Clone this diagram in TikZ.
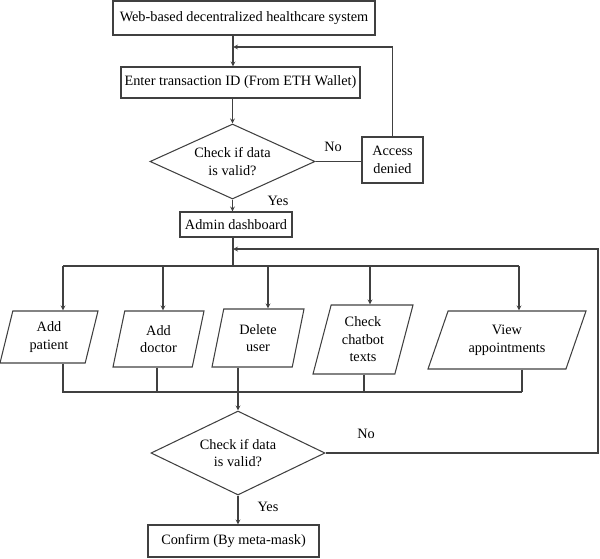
\documentclass[tikz,border=0pt]{standalone}
\usepackage{fontspec}
\setmainfont{Liberation Serif}
\usetikzlibrary{shapes.geometric}

\tikzset{
  txt/.style={font=\fontsize{12.2}{15}\selectfont},
  box/.style={txt, draw=black!75, line width=0.9pt, inner sep=2pt, align=center},
  decision/.style={box, diamond, aspect=2.2, inner sep=0pt},
  io/.style={box, trapezium, trapezium left angle=70, trapezium right angle=110,
    trapezium stretches body},
  link/.style={draw=black!75, line width=0.9pt},
}

\begin{document}
\begin{tikzpicture}[x=0.03cm, y=-0.03cm]
\useasboundingbox (0,0) rectangle (600,558);

 \node[box, minimum width=7.86cm, minimum height=1.02cm] (web) at (244, 18) {Web-based decentralized healthcare system};
 \node[box, minimum width=7.17cm, minimum height=0.93cm] (enter) at (240.5, 82.5) {Enter transaction ID (From ETH Wallet)};
 \node[decision, minimum width=4.95cm, minimum height=2.25cm] (check1) at (232.5, 161.5) {Check if data\\is valid?};
 \node[box, minimum width=1.83cm, minimum height=1.38cm] (denied) at (392.5, 160) {Access\\denied};
 \node[box, minimum width=3.36cm, minimum height=0.75cm] (admin) at (236, 224.5) {Admin dashboard};

 \node[io, minimum width=2.94cm, minimum height=1.56cm] (patient) at (49, 337) {Add\\patient};
 \node[io, minimum width=2.73cm, minimum height=1.68cm] (doctor) at (158.5, 339) {Add\\doctor};
 \node[io, minimum width=2.76cm, minimum height=1.74cm] (delete) at (258, 338) {Delete\\user};
 \node[io, minimum width=3.0cm, minimum height=2.07cm] (chatbot) at (363, 339.5) {Check\\chatbot\\texts};
 \node[io, trapezium left angle=60, trapezium right angle=120, minimum width=4.74cm, minimum height=1.74cm] (view) at (507, 340) {View\\appointments};

 \node[decision, minimum width=5.22cm, minimum height=2.52cm] (check2) at (238, 453) {Check if data\\is valid?};
 \node[box, minimum width=5.13cm, minimum height=0.96cm] (confirm) at (233.5, 541) {Confirm (By meta-mask)};

 % labels
 \node[txt] (no1) at (333, 147) {No};
 \node[txt] (yes1) at (278, 201) {Yes};
 \node[txt] (no2) at (366, 434) {No};
 \node[txt] (yes2) at (268, 507) {Yes};

 % bends and bus points
 \coordinate (back1) at (233, 47);
 \coordinate (back2) at (233, 249);
 \coordinate (loop) at (598, 249);
 \coordinate (bus) at (233, 266);
 \coordinate (b1) at (63, 266);
 \coordinate (b2) at (163, 266);
 \coordinate (b3) at (268, 266);
 \coordinate (b4) at (370, 266);
 \coordinate (b5) at (519, 266);
 \coordinate (c1) at (63, 392);
 \coordinate (c2) at (157, 392);
 \coordinate (c3) at (238, 392);
 \coordinate (c4) at (364, 392);
 \coordinate (c5) at (522, 392);

 % top part
 \draw[link, -stealth] (web.south -| back1) -- (enter.north -| back1);
 \draw[link, -stealth] (enter.south -| check1.north) -- (check1.north);
 \draw[link] (check1.east) -- (check1.east -| denied.west);
 \draw[link, -stealth] (denied.north) |- (back1);
 \draw[link, -stealth] (check1.south) -- (check1.south |- admin.north);
 \draw[link] (admin.south -| bus) -- (bus);

 % branches
 \draw[link] (b1) -- (b5);
 \draw[link, -stealth] (b1) -- (b1 |- patient.north);
 \draw[link, -stealth] (b2) -- (b2 |- doctor.north);
 \draw[link, -stealth] (b3) -- (b3 |- delete.north);
 \draw[link, -stealth] (b4) -- (b4 |- chatbot.north);
 \draw[link, -stealth] (b5) -- (b5 |- view.north);

 \draw[link] (c1 |- patient.south) -- (c1) -- (c5);
 \draw[link] (c2 |- doctor.south) -- (c2);
 \draw[link] (c4 |- chatbot.south) -- (c4);
 \draw[link] (c5 |- view.south) -- (c5);
 \draw[link, -stealth] (c3 |- delete.south) -- (check2.north);

 % bottom part
 \draw[link, -stealth] (check2.east) -| (loop) -- (back2);
 \draw[link, -stealth] (check2.south) -- (check2.south |- confirm.north);
\end{tikzpicture}
\end{document}
